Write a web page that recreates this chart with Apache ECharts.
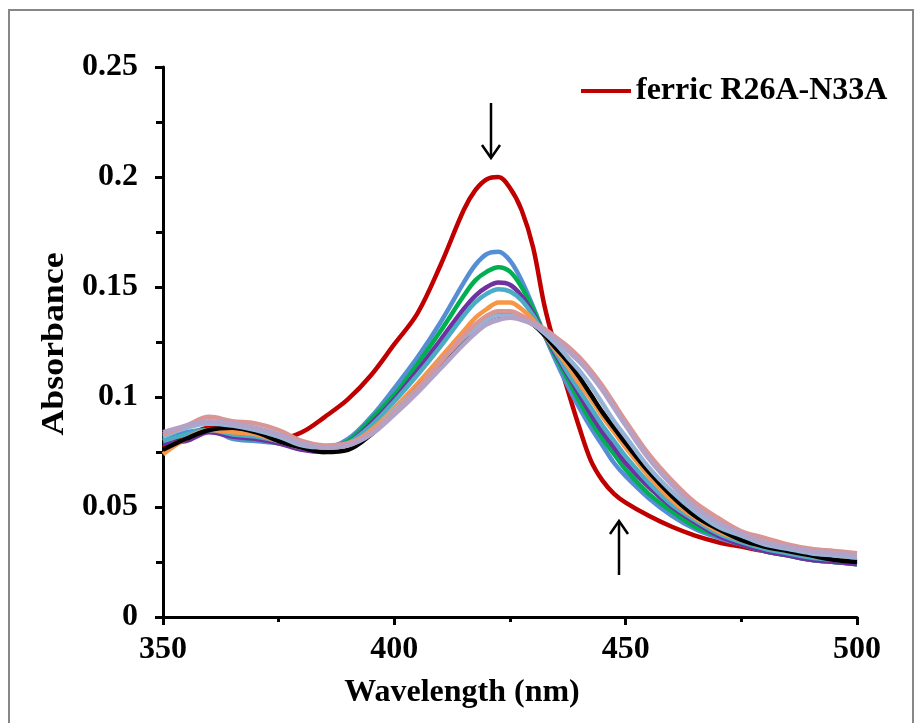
<!DOCTYPE html>
<html><head><meta charset="utf-8">
<script src="https://cdn.jsdelivr.net/npm/echarts@6/dist/echarts.min.js"></script>
<style>html,body{margin:0;padding:0;background:#fff}#c{width:917px;height:723px}</style>
</head><body><div id="c"></div>
<script>
var wavelengths = [350,355,360,365,370,375,380,385,390,395,400,405,410,415,417.5,420,422.5,425,427.5,430,432.5,435,437.5,440,442.5,445,447.5,450,455,460,465,470,475,480,485,490,495,500];
var ferric   = [0.077,0.082,0.086,0.085,0.083,0.081,0.084,0.091,0.099,0.110,0.124,0.138,0.160,0.185,0.194,0.199,0.200,0.195,0.185,0.168,0.141,0.121,0.103,0.086,0.071,0.062,0.056,0.052,0.046,0.041,0.037,0.034,0.032,0.030,0.029,0.027,0.026,0.025];
var blue     = [0.081,0.084,0.085,0.081,0.080,0.079,0.077,0.077,0.081,0.091,0.104,0.118,0.134,0.152,0.160,0.165,0.166,0.162,0.153,0.141,0.128,0.116,0.105,0.095,0.086,0.078,0.070,0.064,0.054,0.046,0.040,0.036,0.033,0.030,0.028,0.026,0.025,0.024];
var green    = [0.080,0.083,0.085,0.082,0.081,0.079,0.077,0.076,0.080,0.090,0.101,0.115,0.130,0.146,0.153,0.157,0.159,0.157,0.150,0.140,0.128,0.118,0.108,0.098,0.089,0.081,0.074,0.067,0.056,0.048,0.041,0.037,0.033,0.030,0.028,0.026,0.025,0.024];
var purple   = [0.079,0.080,0.084,0.082,0.081,0.079,0.076,0.075,0.079,0.088,0.099,0.112,0.126,0.140,0.146,0.150,0.152,0.151,0.146,0.138,0.128,0.119,0.110,0.101,0.092,0.084,0.077,0.070,0.059,0.050,0.043,0.037,0.033,0.030,0.028,0.026,0.025,0.024];
var teal     = [0.080,0.083,0.085,0.083,0.082,0.080,0.077,0.076,0.079,0.087,0.098,0.110,0.123,0.137,0.143,0.147,0.149,0.148,0.144,0.137,0.128,0.120,0.111,0.103,0.095,0.087,0.080,0.073,0.061,0.051,0.044,0.038,0.034,0.031,0.029,0.027,0.026,0.025];
var orange   = [0.074,0.081,0.085,0.084,0.083,0.080,0.077,0.076,0.078,0.085,0.095,0.106,0.118,0.130,0.136,0.140,0.143,0.143,0.140,0.135,0.128,0.121,0.114,0.106,0.099,0.091,0.084,0.077,0.064,0.053,0.045,0.039,0.035,0.032,0.030,0.028,0.027,0.026];
var black    = [0.076,0.081,0.085,0.086,0.084,0.080,0.077,0.075,0.076,0.083,0.093,0.104,0.115,0.126,0.131,0.135,0.137,0.137,0.136,0.133,0.128,0.122,0.116,0.109,0.101,0.093,0.086,0.079,0.066,0.055,0.046,0.040,0.035,0.032,0.030,0.028,0.026,0.025];
var lightBlue= [0.082,0.086,0.088,0.087,0.085,0.082,0.078,0.077,0.078,0.084,0.094,0.104,0.116,0.127,0.131,0.135,0.137,0.137,0.136,0.133,0.129,0.124,0.118,0.112,0.105,0.097,0.089,0.082,0.068,0.057,0.048,0.041,0.037,0.033,0.031,0.029,0.028,0.027];
var pink     = [0.083,0.087,0.091,0.089,0.088,0.085,0.080,0.078,0.079,0.084,0.093,0.104,0.116,0.128,0.133,0.137,0.139,0.139,0.137,0.134,0.131,0.127,0.123,0.118,0.112,0.105,0.097,0.089,0.074,0.062,0.052,0.045,0.039,0.036,0.033,0.031,0.030,0.029];
var lavender = [0.084,0.087,0.089,0.088,0.086,0.083,0.079,0.077,0.078,0.083,0.092,0.102,0.113,0.124,0.129,0.133,0.135,0.136,0.135,0.133,0.130,0.126,0.121,0.116,0.110,0.103,0.095,0.087,0.072,0.060,0.050,0.043,0.038,0.034,0.032,0.030,0.029,0.028];
var xTicks = [350,400,450,500];
var yTicks = [0,0.05,0.1,0.15,0.2,0.25];
var legendName = 'ferric R26A-N33A';

var seriesDefs = [
  {name: legendName, data: ferric, color: '#C00000'},
  {name: 's2', data: blue, color: '#558ED5'},
  {name: 's3', data: green, color: '#00B050'},
  {name: 's4', data: purple, color: '#7030A0'},
  {name: 's5', data: teal, color: '#4BACC6'},
  {name: 's6', data: orange, color: '#F79646'},
  {name: 's7', data: black, color: '#000000'},
  {name: 's8', data: lightBlue, color: '#95B3D7'},
  {name: 's9', data: pink, color: '#D99694'},
  {name: 's10', data: lavender, color: '#B3A2C7'}
];
function pairs(arr){ return wavelengths.map(function(w,i){ return [w, arr[i]]; }); }

var FONT = 'Liberation Serif';
var FS = 32;
var chart = echarts.init(document.getElementById('c'), null, {renderer:'canvas'});
chart.setOption({
  animation: false,
  backgroundColor: '#fff',
  grid: {left: 163, right: 60, top: 67, bottom: 106, containLabel: false},
  legend: {
    data: [{name: legendName, icon: 'rect'}],
    left: 576, top: 70, itemWidth: 50, itemHeight: 4,
    textStyle: {fontFamily: FONT, fontWeight: 'bold', fontSize: FS, color: '#000'}
  },
  xAxis: {
    type: 'value', min: xTicks[0], max: xTicks[xTicks.length-1], interval: 50,
    splitLine: {show: false},
    axisLine: {lineStyle: {color: '#000', width: 3}},
    axisTick: {show: true, inside: false, length: 8, lineStyle: {color: '#000', width: 3}},
    minorTick: {show: true, splitNumber: 2, length: 5, lineStyle: {color: '#000', width: 3}},
    axisLabel: {margin: 17, fontFamily: FONT, fontWeight: 'bold', fontSize: FS, color: '#000'}
  },
  yAxis: {
    type: 'value', min: yTicks[0], max: yTicks[yTicks.length-1], interval: 0.05,
    splitLine: {show: false},
    axisLine: {lineStyle: {color: '#000', width: 3}},
    axisTick: {show: true, inside: false, length: 8, lineStyle: {color: '#000', width: 3}},
    minorTick: {show: true, splitNumber: 2, length: 7, lineStyle: {color: '#000', width: 3}},
    axisLabel: {margin: 25, fontFamily: FONT, fontWeight: 'bold', fontSize: FS, color: '#000'}
  },
  series: seriesDefs.map(function(s){
    return {
      name: s.name, type: 'line', data: pairs(s.data), smooth: 0.35,
      showSymbol: false, symbol: 'none', color: s.color,
      lineStyle: {color: s.color, width: 4.5}, z: 2
    };
  }),
  graphic: [
    {type: 'rect', shape: {x: 9, y: 10, width: 904, height: 740}, style: {fill: 'none', stroke: '#878787', lineWidth: 2}, silent: true},
    {type: 'text', x: 462, y: 693, style: {text: 'Wavelength (nm)', font: 'bold 32px "Liberation Serif"', fill: '#000', align: 'center', verticalAlign: 'middle'}},
    {type: 'text', x: 55, y: 344, rotation: Math.PI/2, scaleX: 1.12, style: {text: 'Absorbance', font: 'bold 32px "Liberation Serif"', fill: '#000', align: 'center', verticalAlign: 'middle'}},
    {type: 'line', shape: {x1: 491, y1: 103, x2: 491, y2: 157}, style: {stroke: '#000', lineWidth: 2.5}},
    {type: 'polyline', shape: {points: [[482,145],[491,158],[500,145]]}, style: {stroke: '#000', lineWidth: 2.5, fill: 'none'}},
    {type: 'line', shape: {x1: 619, y1: 522, x2: 619, y2: 575}, style: {stroke: '#000', lineWidth: 2.5}},
    {type: 'polyline', shape: {points: [[610,534],[619,521],[628,534]]}, style: {stroke: '#000', lineWidth: 2.5, fill: 'none'}}
  ]
});
</script>
</body></html>
